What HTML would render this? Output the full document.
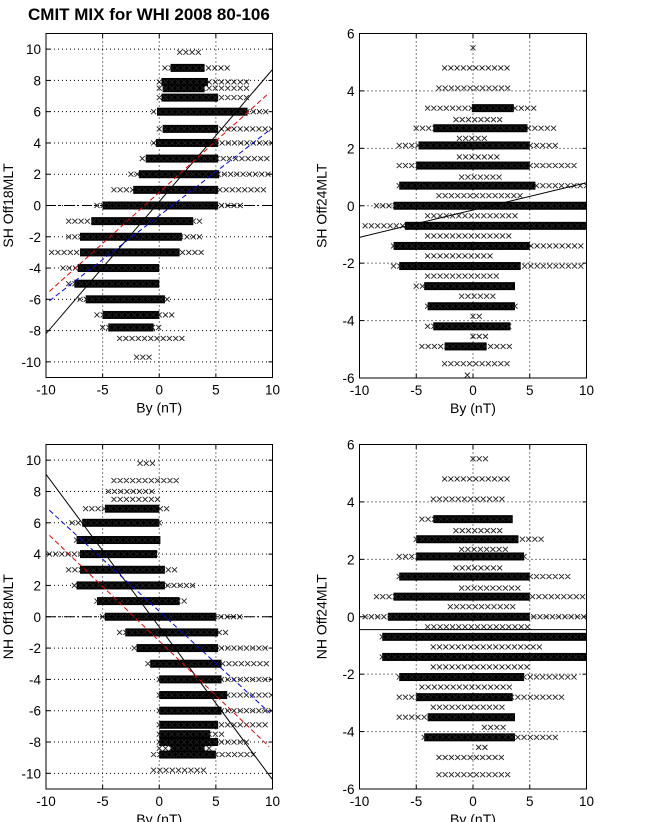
<!DOCTYPE html>
<html><head><meta charset="utf-8">
<style>
html,body{margin:0;padding:0;background:#fff;}
svg{display:block;font-family:"Liberation Sans",sans-serif;}
</style></head>
<body>
<svg id="fig" width="647" height="822" viewBox="0 0 647 822" xmlns="http://www.w3.org/2000/svg">
<rect width="647" height="822" fill="#fff"/>
<text x="28" y="20" font-size="17" font-weight="bold">CMIT MIX for WHI 2008 80-106</text>
</svg>
<script>
// ---- Panel 1: SH Off18MLT ----
const p1Levels   = [9.8, 8.8, 7.9, 7.5, 6.9, 6, 4.9, 4, 3, 2, 1, 0, -1, -2, -3, -4, -5, -6, -7, -7.8, -8.5, -9.7];
const p1DenseMin = [null, 1, 0.2, 0.3, 0.2, -0.2, 0.3, -0.3, -1.2, -1.8, -2.3, -5, -6, -7, -7, -7.2, -7.5, -6.5, -5, -4.5, null, null];
const p1DenseMax = [null, 4, 4.3, 4, 5.2, 7.8, 5.2, 5.2, 5.2, 5.3, 5.2, 5.2, 3, 2, 1.8, 0, 0, 0.5, 0, -0.5, null, null];
const p1SparseMin= [1.8, 0.5, 0, 0, 0, -0.5, 0, -0.5, -1.5, -2.5, -4, -5.5, -8, -8, -9.5, -8.5, -8, -7, -5.5, -5, -3.5, -2];
const p1SparseMax= [3.6, 6, 8, 8, 8, 9.7, 10, 10, 10, 10, 9.5, 7.5, 4, 4, 3.7, 0, 0, 1, 1.5, 0, 2, -0.5];
const p1Lines = [{x:[-10,10],y:[-8.2,8.7],c:'#000',d:''},{x:[-9.7,9.7],y:[-5.5,7.2],c:'#e00',d:'5,3'},{x:[-9.7,9.7],y:[-6.1,4.8],c:'#00e',d:'5,3'}];
// ---- Panel 2: SH Off24MLT ----
const p2Levels   = [5.5, 4.8, 4.1, 3.4, 3.0, 2.7, 2.35, 2.1, 1.7, 1.4, 1.0, 0.7, 0.35, 0, -0.35, -0.7, -1.05, -1.4, -1.75, -2.1, -2.45, -2.8, -3.15, -3.5, -3.85, -4.2, -4.55, -4.9, -5.5, -5.9];
const p2DenseMin = [null, null, null, -0.1, null, -3.5, null, -4.8, null, -5, null, -6.5, null, -7, null, -6, null, -7, null, -6.5, null, -4.3, null, -4, null, -3.5, null, -2.5, null, null];
const p2DenseMax = [null, null, null, 3.6, null, 4.8, null, 5, null, 5, null, 5.5, null, 10, null, 10, null, 5, null, 4.2, null, 3.7, null, 3.7, null, 3.3, null, 1.2, null, null];
const p2SparseMin= [0, -2.5, -3, -4, -1.5, -5, -1.2, -6.5, -1.2, -6.5, -1, -6.5, -3, -8.5, -4, -9.5, -4, -7, -4, -7, -4, -5, -1, -4, 0, -4, 0, -4.5, -2.5, -0.5];
const p2SparseMax= [0, 3, 3.5, 5.5, 2.5, 7.5, 1, 7.5, 2.5, 9.2, 2.5, 10, 4.5, 10, 4, 10, 3.5, 10, 2, 9.5, 2.5, 3.7, 2, 3.7, 1, 3.3, 1.5, 3.5, 3.2, -0.5];
const p2Lines = [{x:[-10,10],y:[-1.1,0.8],c:'#000',d:''}];
// ---- Panel 3: NH Off18MLT ----
const p3Levels   = [9.8, 8.7, 8, 7.5, 6.9, 6, 4.9, 4, 3, 2, 1, 0, -1, -2, -3, -4, -5, -6, -6.9, -7.5, -8, -8.4, -8.8, -9.8];
const p3DenseMin = [null, null, null, null, -4.8, -6.8, -7.3, -7, -7, -7.3, -5.5, -4.8, -3, -2, -0.8, 0, 0, 0, 0, 0, 0, 1, 0, null];
const p3DenseMax = [null, null, null, null, 0, 0, 0.1, -0.2, 0.5, 0.5, 1.8, 5, 5.2, 5.2, 5.5, 5.5, 6, 5.5, 5.2, 4.5, 5.2, 4, 5, null];
const p3SparseMin= [-1.7, -4, -4.5, -4, -6.5, -7.7, -7.3, -9.7, -8, -7.5, -5.5, -5, -3.5, -2.2, -1, 0, 0, 0, 0, 0, 0, 0, -0.5, -0.5];
const p3SparseMax= [-0.3, 2, -0.5, 0, 1, 0, 0.1, -0.2, 1.4, 3.2, 2.5, 7.5, 6, 9.5, 9.8, 10, 10, 10, 9.7, 6, 8, 4.5, 8.4, 4];
const p3Lines = [{x:[-10,10],y:[9.1,-10.4],c:'#000',d:''},{x:[-9.7,9.7],y:[6.8,-6.1],c:'#00e',d:'5,3'},{x:[-9.7,9.7],y:[5.2,-8.3],c:'#e00',d:'5,3'}];
// ---- Panel 4: NH Off24MLT ----
const p4Levels   = [5.5, 4.8, 4.1, 3.4, 3.0, 2.7, 2.35, 2.1, 1.7, 1.4, 1.0, 0.7, 0.35, 0, -0.35, -0.7, -1.05, -1.4, -1.75, -2.1, -2.45, -2.8, -3.15, -3.5, -3.85, -4.2, -4.55, -4.9, -5.5];
const p4DenseMin = [null, null, null, -3.5, null, -5, null, -5, null, -6.5, null, -7, null, -7.5, null, -8, null, -8, null, -6.5, null, -5, null, -4, null, -4.3, null, null, null];
const p4DenseMax = [null, null, null, 3.5, null, 4, null, 4.5, null, 5, null, 5, null, 5, null, 10, null, 10, null, 4.5, null, 3.5, null, 3.7, null, 3.7, null, null, null];
const p4SparseMin= [0, -2.5, -3.5, -4.5, -1.5, -5, -1, -6.5, -1.5, -6.5, -1, -8.5, -2, -9.5, -4, -8, -3.5, -8, -3.5, -6.5, -4.5, -6.5, -3.5, -6.5, 1, -4.3, 0.5, -3, -3];
const p4SparseMax= [1.5, 3, 3, 3.5, 2.5, 6.5, 3, 4.5, 2.5, 8.8, 4, 9.8, 4, 10, 5, 10, 6, 10, 5, 9, 3.5, 8, 3, 3.7, 3, 7.7, 1.5, 2.7, 3.2];
const p4Lines = [{x:[-10,10],y:[-0.45,-0.45],c:'#000',d:''}];

const NS='http://www.w3.org/2000/svg';
const svg=document.getElementById('fig');
function mk(tag,attrs,parent){const e=document.createElementNS(NS,tag);for(const k in attrs)e.setAttribute(k,attrs[k]);(parent||svg).appendChild(e);return e;}

function panel(cfg){
  const {L,R,T,B,ymin,ymax,yticks,ylabel,name,levels,dmin,dmax,smin,smax,lines,zeroLine}=cfg;
  const g=mk('g',{});
  
  
  const sx=v=>L+(v+10)/20*(R-L);
  const sy=v=>B-(v-ymin)/(ymax-ymin)*(B-T);
  const clip='clip-'+name;
  const cp=mk('clipPath',{id:clip},g);mk('rect',{x:L,y:T,width:R-L,height:B-T},cp);
  const xt=[-10,-5,0,5,10];
  xt.forEach(v=>{
    if(v>-10&&v<10){const l=mk('line',{x1:sx(v),x2:sx(v),y1:T,y2:B,stroke:'#000','stroke-width':1,'stroke-dasharray':'1,3'},g);
    
    }
    const t=mk('text',{x:sx(v),y:B+17,'font-size':13.5,'text-anchor':'middle'},g);t.textContent=v;
    
    
    mk('line',{x1:sx(v),x2:sx(v),y1:B,y2:B-4,stroke:'#000'},g);
    mk('line',{x1:sx(v),x2:sx(v),y1:T,y2:T+4,stroke:'#000'},g);
  });
  yticks.forEach(v=>{
    const y=sy(v);
    if(v>ymin&&v<ymax){const l=mk('line',{x1:L,x2:R,y1:y,y2:y,stroke:'#000','stroke-width':1,'stroke-dasharray':'1,3'},g);
    
    }
    const t=mk('text',{x:L-5,y:y+5,'font-size':13.5,'text-anchor':'end'},g);t.textContent=v;
    
    
    mk('line',{x1:L,x2:L+4,y1:y,y2:y,stroke:'#000'},g);
    mk('line',{x1:R,x2:R-4,y1:y,y2:y,stroke:'#000'},g);
  });
  const dg=mk('g',{'clip-path':'url(#'+clip+')'},g);
  
  
  let d='';
  levels.forEach((lv,i)=>{
    const y=sy(lv);
    if(smin[i]!=null){
      const step=0.55;
      for(let x=smin[i];x<=smax[i]+1e-6;x+=step){
        const px=sx(x);
        d+=`M${px-2.5},${y-2.5}L${px+2.5},${y+2.5}M${px-2.5},${y+2.5}L${px+2.5},${y-2.5}`;
      }
    }
    if(dmin[i]!=null){
      const r=mk('rect',{x:sx(dmin[i]),y:y-4,width:sx(dmax[i])-sx(dmin[i]),height:8,fill:'#000'},dg);
      
      
    }
  });
  const p=mk('path',{d:d,stroke:'#222','stroke-width':0.9,fill:'none'},dg);
  
  
  if(zeroLine){mk('line',{x1:L,x2:R,y1:sy(0),y2:sy(0),stroke:'#000','stroke-dasharray':'10,3,2,3'},dg);}
  lines.forEach(ln=>{
    const l=mk('line',{x1:sx(ln.x[0]),y1:sy(ln.y[0]),x2:sx(ln.x[1]),y2:sy(ln.y[1]),stroke:ln.c,'stroke-width':1,'stroke-dasharray':ln.d||'none'},dg);
    
    
  });
  const box=mk('rect',{x:L,y:T,width:R-L,height:B-T,fill:'none',stroke:'#000','stroke-width':1},g);
  
  
  const xl=mk('text',{x:(L+R)/2,y:B+35,'font-size':14,'text-anchor':'middle'},g);xl.textContent='By (nT)';
  
  
  const cx=L-33,cy=(T+B)/2;
  const yl=mk('text',{x:cx,y:cy,'font-size':14,'text-anchor':'middle',transform:`rotate(-90 ${cx} ${cy})`},g);yl.textContent=ylabel;
  
  
}
const yt18=[-10,-8,-6,-4,-2,0,2,4,6,8,10], yt24=[-6,-4,-2,0,2,4,6];
panel({L:46,R:272.5,T:33.5,B:377.5,ymin:-11,ymax:11,yticks:yt18,ylabel:'SH Off18MLT',name:'sh-off18-panel',levels:p1Levels,dmin:p1DenseMin,dmax:p1DenseMax,smin:p1SparseMin,smax:p1SparseMax,lines:p1Lines,zeroLine:true});
panel({L:359.5,R:586.5,T:33.5,B:378,ymin:-6,ymax:6,yticks:yt24,ylabel:'SH Off24MLT',name:'sh-off24-panel',levels:p2Levels,dmin:p2DenseMin,dmax:p2DenseMax,smin:p2SparseMin,smax:p2SparseMax,lines:p2Lines,zeroLine:false});
panel({L:46,R:272.5,T:444.5,B:789,ymin:-11,ymax:11,yticks:yt18,ylabel:'NH Off18MLT',name:'nh-off18-panel',levels:p3Levels,dmin:p3DenseMin,dmax:p3DenseMax,smin:p3SparseMin,smax:p3SparseMax,lines:p3Lines,zeroLine:true});
panel({L:359.5,R:586.5,T:444.5,B:789,ymin:-6,ymax:6,yticks:yt24,ylabel:'NH Off24MLT',name:'nh-off24-panel',levels:p4Levels,dmin:p4DenseMin,dmax:p4DenseMax,smin:p4SparseMin,smax:p4SparseMax,lines:p4Lines,zeroLine:false});
</script>
</body></html>
